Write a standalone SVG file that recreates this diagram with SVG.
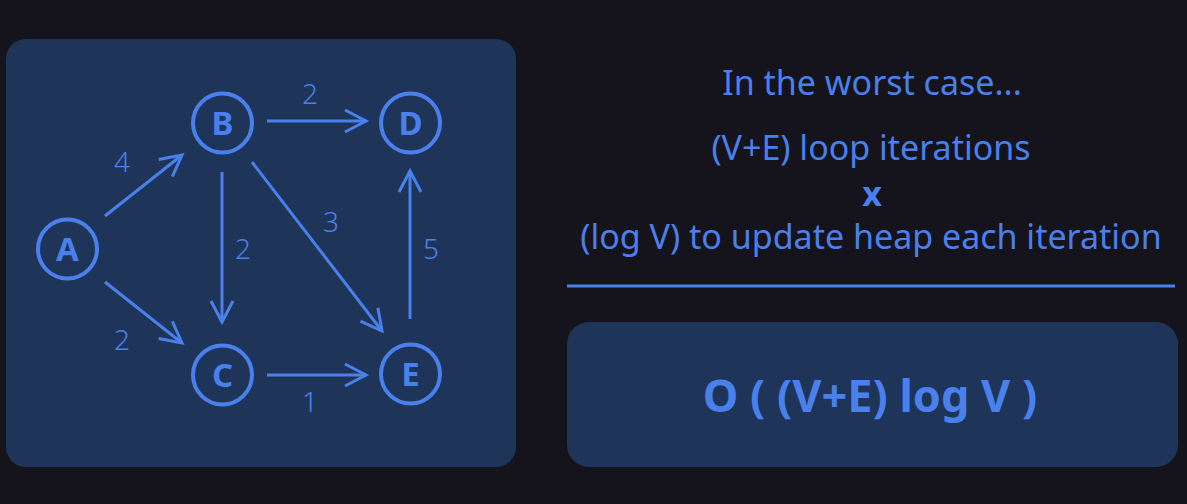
<svg xmlns="http://www.w3.org/2000/svg" width="1187" height="504" viewBox="0 0 1187 504">
<defs>
<style>
.bg{fill:#15141d}
.panel{fill:#1e3559}
.node{fill:none;stroke:#4a80ec;stroke-width:4}
.nl{font-family:"Noto Sans","DejaVu Sans",sans-serif;font-weight:bold;font-size:33px;fill:#4a80ec;text-anchor:middle}
.edge{stroke:#4a80ec;stroke-width:3;fill:none;marker-end:url(#arr)}
.el{font-family:"Noto Sans","DejaVu Sans",sans-serif;font-weight:300;font-size:28px;fill:#4a80ec;text-anchor:middle}
.t{font-family:"Noto Sans","DejaVu Sans",sans-serif;font-size:34px;fill:#4a80ec;text-anchor:middle}
.b{font-weight:bold}
.big{font-size:45px}
</style>
<marker id="arr" markerUnits="userSpaceOnUse" markerWidth="30" markerHeight="30" viewBox="-25 -15 30 30" refX="0" refY="0" orient="auto">
<path d="M -21 -11 L 0 0 L -21 11" fill="none" stroke="#4a80ec" stroke-width="3"/>
</marker>
</defs>
<rect class="bg" x="0" y="0" width="1187" height="504"/>
<rect class="panel" x="6" y="39" width="510" height="428" rx="20"/>
<g id="edges">
<line class="edge" x1="105" y1="216" x2="182" y2="155"/>
<line class="edge" x1="105" y1="282" x2="182" y2="343"/>
<line class="edge" x1="267" y1="121" x2="366" y2="121"/>
<line class="edge" x1="222" y1="172" x2="222" y2="322"/>
<line class="edge" x1="252" y1="162" x2="382" y2="331"/>
<line class="edge" x1="267" y1="375" x2="366" y2="375"/>
<line class="edge" x1="410" y1="319" x2="410" y2="171"/>
<text class="el" x="122" y="172">4</text>
<text class="el" x="122" y="350">2</text>
<text class="el" x="310" y="104">2</text>
<text class="el" x="243" y="259">2</text>
<text class="el" x="331" y="232">3</text>
<text class="el" x="431" y="259">5</text>
<text class="el" x="310" y="412">1</text>
</g>
<g id="A"><circle class="node" cx="67.5" cy="249" r="29.5"/><text class="nl" x="67.5" y="261">A</text></g>
<g id="B"><circle class="node" cx="222.5" cy="123" r="29.5"/><text class="nl" x="222.5" y="135">B</text></g>
<g id="C"><circle class="node" cx="222.5" cy="375" r="29.5"/><text class="nl" x="222.5" y="387">C</text></g>
<g id="D"><circle class="node" cx="410.5" cy="123" r="29.5"/><text class="nl" x="410.5" y="135">D</text></g>
<g id="E"><circle class="node" cx="410.5" cy="374" r="29.5"/><text class="nl" x="410.5" y="386">E</text></g>
<g id="explanation">
<text class="t" x="872" y="95">In the worst case...</text>
<text class="t" x="871" y="160">(V+E) loop iterations</text>
<text class="t b" x="872" y="206">x</text>
<text class="t" x="871" y="249">(log V) to update heap each iteration</text>
<line x1="567" y1="286" x2="1175" y2="286" stroke="#4a80ec" stroke-width="3"/>
</g>
<g id="result">
<rect class="panel" x="567" y="322" width="611" height="145" rx="22"/>
<text class="t b big" x="870" y="412">O ( (V+E) log V )</text>
</g>
</svg>
